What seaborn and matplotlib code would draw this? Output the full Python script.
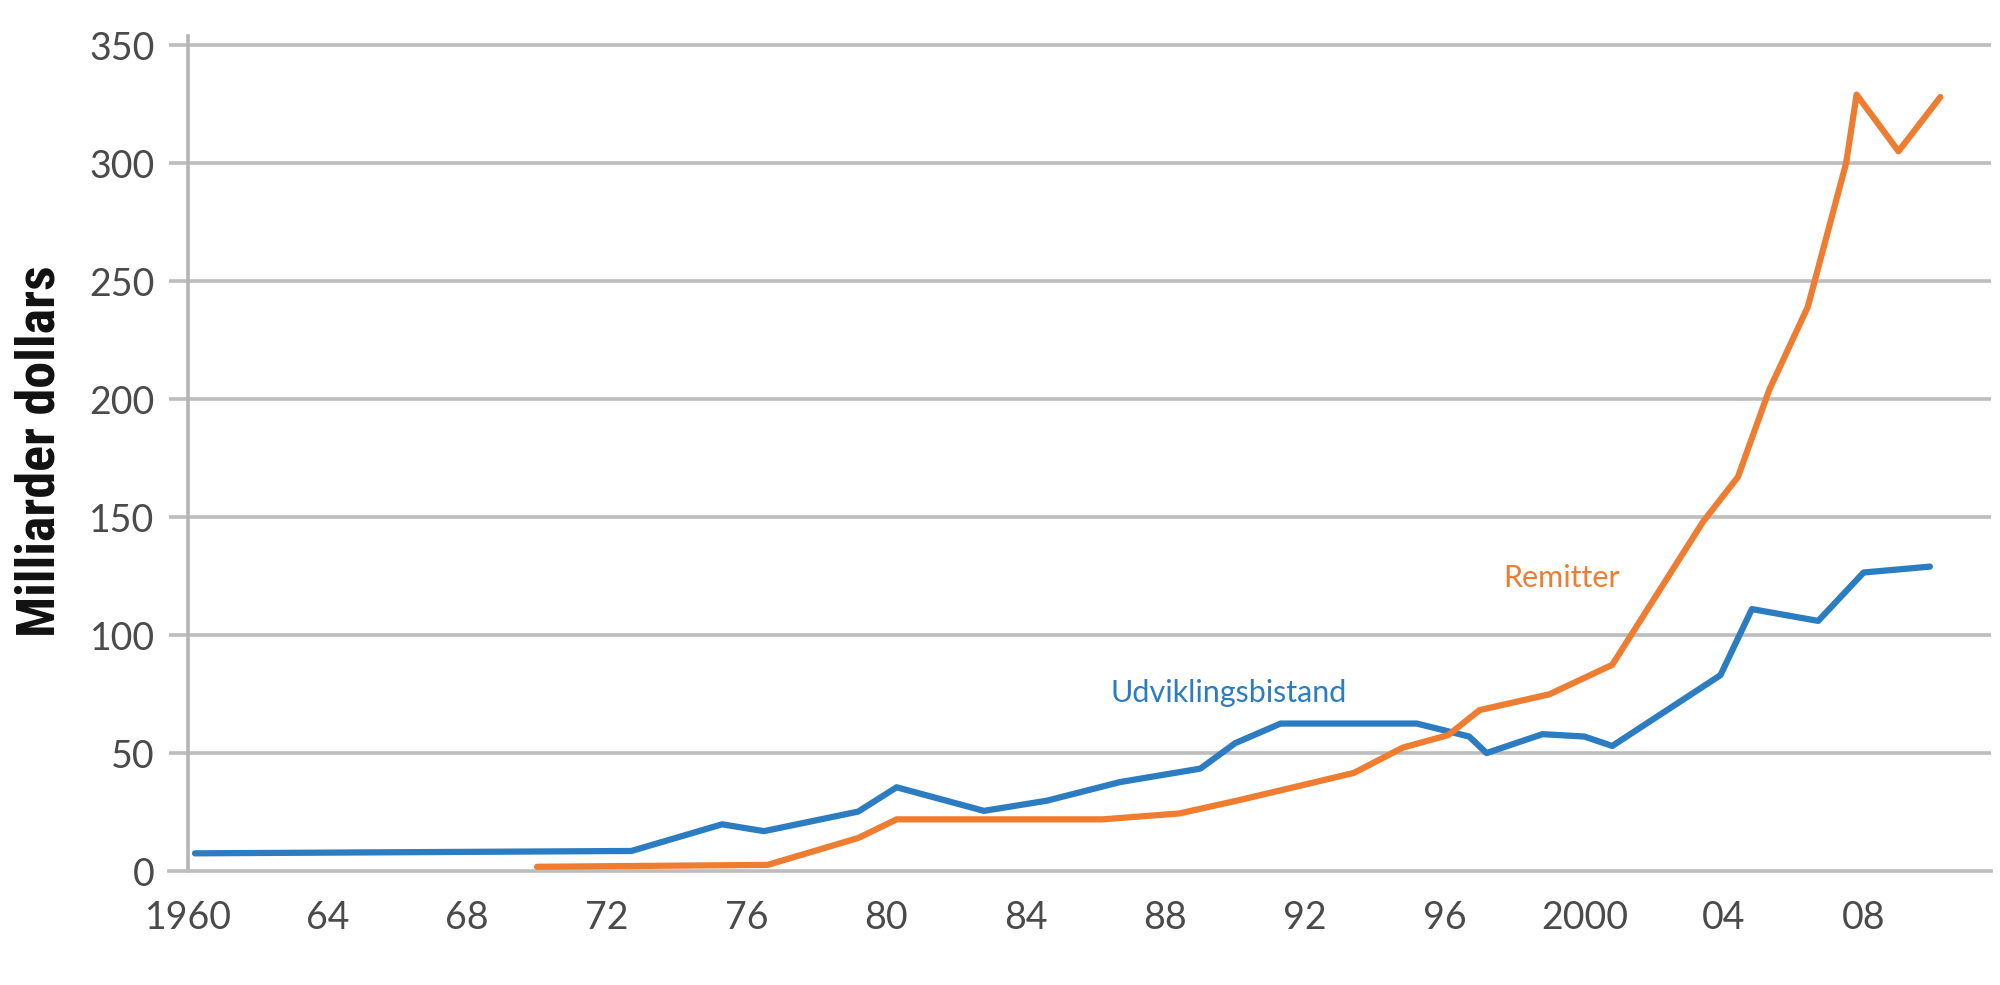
import matplotlib
matplotlib.use("Agg")
import matplotlib.pyplot as plt
import matplotlib.transforms as mtransforms
from matplotlib import font_manager
import seaborn as sns
import pandas as pd

# values (billion dollars)
aid_years = [1960.2, 1972.7, 1975.3, 1976.5, 1979.2, 1980.3, 1982.8, 1984.6, 1986.7,
             1989.0, 1990.0, 1991.3, 1995.2, 1996.7, 1997.2, 1998.8, 2000.0, 2000.8,
             2003.9, 2004.8, 2006.7, 2008.0, 2009.9]
aid_values = [7.5, 8.5, 19.8, 16.9, 25.2, 35.5, 25.5, 29.8, 37.7,
              43.4, 54.2, 62.5, 62.5, 57.0, 50.0, 58.0, 57.0, 53.0,
              83.0, 111.0, 106.0, 126.5, 129.0]

rem_years = [1970.0, 1976.6, 1979.2, 1980.3, 1986.2, 1988.4, 1990.1, 1991.9, 1993.4,
             1994.8, 1996.1, 1997.0, 1999.0, 2000.8, 2003.4, 2004.4, 2005.3, 2006.4,
             2007.5, 2007.8, 2009.0, 2010.2]
rem_values = [1.8, 2.6, 14.0, 21.9, 21.9, 24.4, 30.0, 36.3, 41.6,
              52.3, 57.6, 68.2, 74.9, 87.4, 148.0, 167.0, 204.0, 239.0,
              300.0, 329.0, 305.0, 328.0]

xticks = list(range(1960, 2009, 4))
xtick_labels = ["1960", "64", "68", "72", "76", "80", "84", "88", "92", "96", "2000", "04", "08"]
yticks = [0, 50, 100, 150, 200, 250, 300, 350]

blue = "#2b7cc1"
orange = "#ef7d31"
grid_col = "#bdbdbd"
text_col = "#4a4a4a"

sns.set_style("white")
plt.rcParams["font.family"] = ["Lato", "DejaVu Sans"]

# bold condensed face for the y label
installed = {f.name for f in font_manager.fontManager.ttflist}
cond_font = "DejaVu Sans"
for name in ["Roboto Condensed", "Fira Sans Condensed", "Asap Condensed", "Archivo Narrow"]:
    if name in installed:
        cond_font = name
        break

df = pd.concat([
    pd.DataFrame({"year": aid_years, "value": aid_values, "series": "Udviklingsbistand"}),
    pd.DataFrame({"year": rem_years, "value": rem_values, "series": "Remitter"}),
])

fig = plt.figure(figsize=(20, 9.85), dpi=100)
ax = fig.add_axes([0.0844, 0.1157, 0.9111, 0.8481])

for y in yticks[1:]:
    ax.axhline(y, color=grid_col, lw=2.6, zorder=0)

sns.lineplot(data=df, x="year", y="value", hue="series", estimator=None, sort=False,
             palette={"Udviklingsbistand": blue, "Remitter": orange},
             linewidth=4.5, legend=False, ax=ax, zorder=3)

ax.set_xlim(1959.45, 2011.65)
ax.set_ylim(0, 354)

ax.set_xticks(xticks)
ax.set_xticklabels(xtick_labels)
ax.set_yticks(yticks)
ax.set_yticklabels([str(v) for v in yticks])

ax.tick_params(axis="x", direction="inout", length=21, width=1.6, color="#a8a8a8",
               pad=10, labelsize=27, labelcolor=text_col)
ax.tick_params(axis="y", length=0, pad=24, labelsize=27, labelcolor=text_col)
offset = mtransforms.ScaledTranslation(0, 0.06, fig.dpi_scale_trans)
for lab in ax.get_yticklabels():
    lab.set_transform(lab.get_transform() + offset)

for side in ["top", "right"]:
    ax.spines[side].set_visible(False)
ax.spines["left"].set_position(("data", 1960))
ax.spines["left"].set_color("#b5b5b5")
ax.spines["left"].set_linewidth(2.6)
ax.spines["bottom"].set_color(grid_col)
ax.spines["bottom"].set_linewidth(2.6)

ax.set_xlabel("")
ax.set_ylabel("")
fig.text(0.02, 0.542, "Milliarder dollars", rotation=90, ha="center", va="center",
         fontsize=39 if cond_font != "DejaVu Sans" else 31, fontweight="bold",
         color="#111111", family=[cond_font, "DejaVu Sans"])

ax.text(1986.43, 75.4, "Udviklingsbistand", color=blue, fontsize=22, va="center", ha="left")
ax.text(1997.69, 124.1, "Remitter", color=orange, fontsize=22, va="center", ha="left")

fig.savefig("out.png", dpi=100)
